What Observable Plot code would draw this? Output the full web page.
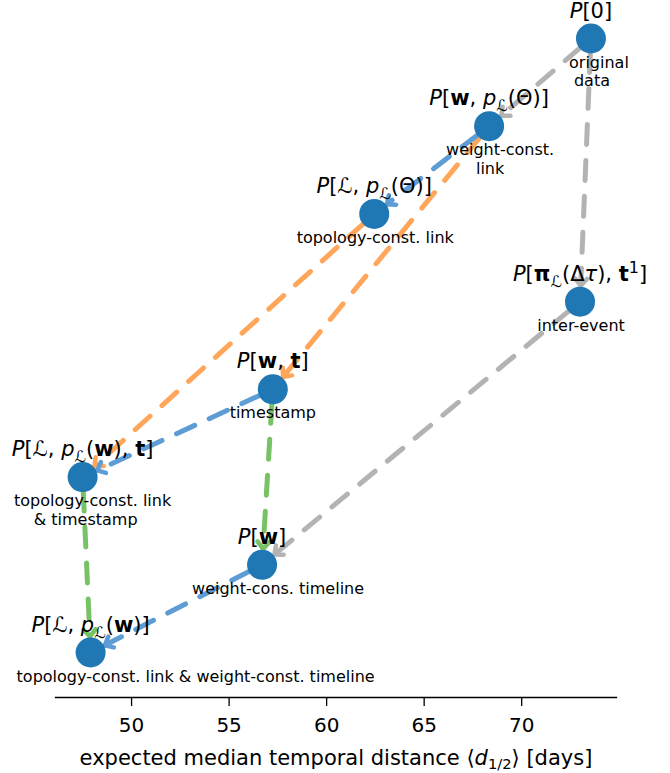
<!DOCTYPE html>
<html><head><meta charset="utf-8">
<script src="https://cdn.jsdelivr.net/npm/d3@7"></script>
<script src="https://cdn.jsdelivr.net/npm/@observablehq/plot@0.6"></script>
<style>body{margin:0;background:#fff;color:#000}</style>
</head><body><div id="chart"></div>
<script>
// ---- data ----
const nodeIds = ["P0", "PwpT", "PLpT", "Ppi", "Pwt", "PLpwt", "Pw", "PLpw"];
const nodeDistance = [73.55, 68.33, 62.44, 72.99, 57.24, 47.49, 56.69, 47.90];
const nodeRank = [0, 1, 2, 3, 4, 5, 6, 7];
const nodeMath = [
  "{i:P}[0]",
  "{i:P}[{b:w}, {i:p}{sub:ℒ}(Θ)]",
  "{i:P}[ℒ, {i:p}{sub:ℒ}(Θ)]",
  "{i:P}[{b:π}{sub:ℒ}(Δ{i:τ}), {b:t}{sup:1}]",
  "{i:P}[{b:w}, {b:t}]",
  "{i:P}[ℒ, {i:p}{sub:ℒ}({b:w}), {b:t}]",
  "{i:P}[{b:w}]",
  "{i:P}[ℒ, {i:p}{sub:ℒ}({b:w})]"
];
const descLine1 = ["original", "weight-const.", "topology-const. link", "inter-event", "timestamp",
  "topology-const. link", "weight-cons. timeline", "topology-const. link & weight-const. timeline"];
const descLine2 = ["data", "link", "", "", "", "& timestamp", "", ""];
const edgeFrom = ["P0", "P0", "Ppi", "PwpT", "PLpT", "PwpT", "Pwt", "Pw", "Pwt", "PLpwt"];
const edgeTo   = ["PwpT", "Ppi", "Pw", "Pwt", "PLpwt", "PLpT", "PLpwt", "PLpw", "Pw", "PLpw"];
const edgeKind = ["gray", "gray", "gray", "orange", "orange", "blue", "blue", "blue", "green", "green"];
const xTicks = [50, 55, 60, 65, 70];
const xLabel = "expected median temporal distance ⟨{i:d}{sub:1/2}⟩ [days]";

// ---- layout / style ----
const kindColor = {gray: "#b3b3b3", orange: "#ffa65a", blue: "#5d9cd4", green: "#78c266"};
const descDx1 = [8, 11, 1, 1, 0, 10, 16, 105];
const descDx2 = [1, 1, 0, 0, 0, 3, 0, 0];

const nodes = nodeIds.map((id, i) => ({id, x: nodeDistance[i], y: nodeRank[i], math: nodeMath[i],
  plain: nodeMath[i].replace(/\{\w*:([^}]*)\}/g, "$1"), d1: descLine1[i], d2: descLine2[i]}));
const byId = Object.fromEntries(nodes.map(n => [n.id, n]));
const edges = edgeFrom.map((f, i) => ({a: byId[f], b: byId[edgeTo[i]], color: kindColor[edgeKind[i]]}));

const svgNS = "http://www.w3.org/2000/svg";
function parseMarkup(s) {
  const out = []; const re = /\{(\w*):([^}]*)\}/g; let last = 0, m;
  while ((m = re.exec(s))) { if (m.index > last) out.push(["", s.slice(last, m.index)]); out.push([m[1], m[2]]); last = re.lastIndex; }
  if (last < s.length) out.push(["", s.slice(last)]);
  return out;
}
function rich(markups, subShift, supShift, subSize) {
  return (index, scales, values, dims, ctx, next) => {
    const g = next(index, scales, values, dims, ctx);
    g.querySelectorAll("text").forEach((t, k) => {
      const m = markups[index[k]];
      t.textContent = "";
      let offset = 0;
      for (const [kind, str] of parseMarkup(m)) {
        const ts = document.createElementNS(svgNS, "tspan");
        let target = 0;
        if (kind === "i") ts.setAttribute("font-style", "italic");
        if (kind === "b") ts.setAttribute("font-weight", "bold");
        if (kind === "sub" || kind === "sup") { ts.setAttribute("font-size", subSize); target = kind === "sub" ? subShift : -supShift; }
        const d = target - offset;
        if (d) ts.setAttribute("dy", d);
        offset = target;
        ts.textContent = str;
        t.appendChild(ts);
      }
    });
    return g;
  };
}
function shiftX(offsets) {
  return (index, s, v, d, c, next) => {
    const g = next(index, s, v, d, c);
    g.querySelectorAll("text").forEach((t, k) =>
      t.setAttribute("transform", (t.getAttribute("transform") || "") + ` translate(${offsets[index[k]]},0)`));
    return g;
  };
}
function inset(a, b) {
  return (index, scales, values, dims, ctx, next) => {
    const {x1, y1, x2, y2} = values;
    const X1 = Array.from(x1), Y1 = Array.from(y1), X2 = Array.from(x2), Y2 = Array.from(y2);
    for (const i of index) {
      const dx = x2[i] - x1[i], dy = y2[i] - y1[i], L = Math.hypot(dx, dy);
      X1[i] = x1[i] + dx / L * a; Y1[i] = y1[i] + dy / L * a;
      X2[i] = x2[i] - dx / L * b; Y2[i] = y2[i] - dy / L * b;
    }
    return next(index, scales, {...values, x1: X1, y1: Y1, x2: X2, y2: Y2}, dims, ctx);
  };
}
function chevron(color) {
  const m = document.createElementNS(svgNS, "marker");
  m.setAttribute("viewBox", "-10 -10 20 20");
  m.setAttribute("markerWidth", 20);
  m.setAttribute("markerHeight", 20);
  m.setAttribute("markerUnits", "userSpaceOnUse");
  m.setAttribute("orient", "auto");
  m.setAttribute("overflow", "visible");
  const p = document.createElementNS(svgNS, "path");
  p.setAttribute("d", "M-7,-6L0,0L-7,6");
  p.setAttribute("fill", "none");
  p.setAttribute("stroke", color);
  p.setAttribute("stroke-width", 4.5);
  p.setAttribute("stroke-linecap", "round");
  p.setAttribute("stroke-linejoin", "round");
  p.setAttribute("stroke-dasharray", "none");
  m.appendChild(p);
  return m;
}

const font = "DejaVu Sans";
const chart = Plot.plot({
  width: 670, height: 773,
  marginLeft: 55, marginRight: 54, marginTop: 0, marginBottom: 76,
  style: {fontFamily: font, color: "#000", background: "#fff"},
  x: {domain: [46.1, 74.86]},
  y: {domain: [0, 7], range: [38, 652], axis: null},
  marks: [
    Plot.frame({anchor: "bottom", strokeWidth: 1.3}),
    Plot.axisX({ticks: xTicks, tickSize: 9, tickPadding: 11, fontSize: 20, strokeWidth: 1.3, label: null}),
    Plot.link(edges, {
      x1: d => d.a.x, y1: d => d.a.y, x2: d => d.b.x, y2: d => d.b.y,
      stroke: d => d.color, strokeWidth: 5, strokeDasharray: "20,16", strokeLinecap: "round",
      markerEnd: chevron, render: inset(14, 16)
    }),
    Plot.dot(nodes, {x: "x", y: "y", r: 15, fill: "#1f77b4", stroke: null}),
    Plot.text(nodes, {x: "x", y: "y", text: "plain", dy: -21, lineAnchor: "bottom", fontSize: 21,
      fontFamily: font, fill: "#000", render: rich(nodeMath, 6, 8, "76%")}),
    Plot.text(nodes, {x: "x", y: "y", text: "d1", dy: 29, lineAnchor: "bottom", fontSize: 16, fontFamily: font,
      fill: "#000", render: shiftX(descDx1)}),
    Plot.text(nodes, {x: "x", y: "y", text: "d2", dy: 47.5, lineAnchor: "bottom", fontSize: 16, fontFamily: font,
      fill: "#000", render: shiftX(descDx2)}),
    Plot.text([xLabel], {frameAnchor: "bottom", text: d => d.replace(/\{\w*:([^}]*)\}/g, "$1"), dy: 67, lineAnchor: "bottom",
      fontSize: 21, fontFamily: font, fill: "#000", render: rich([xLabel], 4, 6, "70%")})
  ]
});
document.getElementById("chart").appendChild(chart);
</script>
</body></html>
